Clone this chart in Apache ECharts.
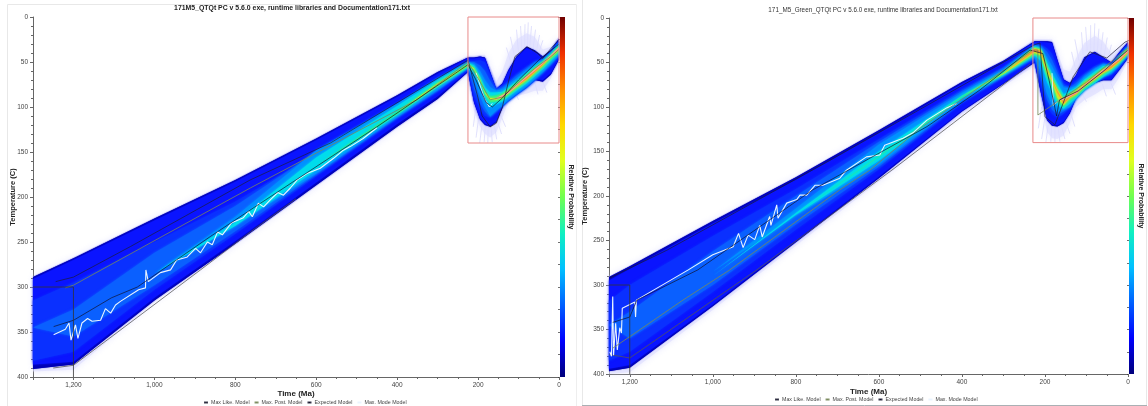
<!DOCTYPE html>
<html><head><meta charset="utf-8">
<style>html,body{margin:0;padding:0;background:#fff}#c{width:1148px;height:406px}</style>
<script src="https://cdn.jsdelivr.net/npm/echarts@6/dist/echarts.min.js"></script></head>
<body><div id="c"></div>
<script>
const titleLeft = '171M5_QTQt PC v 5.6.0 exe, runtime libraries and Documentation171.txt';
const titleRight = '171_M5_Green_QTQt PC v 5.6.0 exe, runtime libraries and Documentation171.txt';
const legendNames = ['Max Like. Model','Max. Post. Model','Expected Model','Max. Mode Model'];
const layerColors = ['#dcdcff','#0000b4','#0a14ff','#0a30ff','#0a60ff','#0090ff','#00dcec','#28f090','#c8f028','#ff9030'];
const barColors = ['#00007a','#0000ff','#0060ff','#00c0ff','#10f0c0','#70ff50','#e0ff20','#ffd800','#ff8c00','#f03000','#700000'];

const leftTimes = [1300,1200,1000,800,600,400,300,225,210,195,183,170,155,140,125,105,80,60,40,20,0];
const leftUpper = [
 [288,267,223,180,134,86,60,43,43,42,42,55,72,60,40,25,18,22,36,33,21],
 [289,268,224,181,135,87,61,45,45,44,45,61,80,74,59,44,33,37,44,37,24],
 [291,270,226,183,137,89,63,46,46,45,46,62,80,75,60.5,45.5,34.5,38.5,45,38,25],
 [315,295,250,205,152,100,70,50,49,48,50,64,80,76,71,63,55,49,47,39,27],
 [345,325,262,210,150,98,69,50,50,54,60,71,81,78,73,65,57,50,47,39,28],
 [345,340,285,222,148,96,68,50,52,60,70,78,82,80,75,68,59,52,48,40,29],
 [345,340,285,228,156,99,70,51,54,66,78,84,84,83,78,71,62,55,49,41,31],
 [345,340,285,230,165,105,73,52,56,68,82,88,87,85,80,73,64,56,50,42,32],
 [345,340,285,230,165,106,74,53,57,70,84,90,90,87,82,75,66,58,51,43,34],
 [345,340,285,230,165,106,75,53,57,70,84,91,91,88,83,76,67,59,52,44,35]];
const leftLower = [
 [394,392,317,254,189,124,93,64,105,122,130,134,128,112,95,88,85,82,82,68,50],
 [391,386,315,252,187,122,91,61,95,114,120,122,117,101,85,81,76,70,72,64,47],
 [386,383,312,249,184,119,88,60,94,112.5,118.5,120.5,115.5,99.5,84,80,74.5,69,70,62,46],
 [382,372,303,241,177,113,83,58,88,104,110,112,106,100,94,87,79,71,63,54,44],
 [345,355,298,238,175,112,82,57,80,96,105,111,105,99,93,86,78,70,62,53,43],
 [345,340,285,232,174,111,81,57,70,88,100,110,104,98,92,85,77,69,61,52,42],
 [345,340,285,232,170,109,78,56,62,76,90,100,97,94,89,82,74,66,58,49,40],
 [345,340,285,230,165,108,76,55,60,72,86,95,94,92,87,80,72,64,56,47,39],
 [345,340,285,230,165,106,76,54,58,71,85,92,92,90,85,78,70,62,54,45,37],
 [345,340,285,230,165,106,75,53,57,70,84,91,91,89,84,77,69,61,53,44,36]];

const rightTimes = [1250,1200,1000,800,600,400,300,225,210,195,183,170,155,140,125,105,80,60,40,20,0];
const rightUpper = [
 [290,278,227,178,125,71,47,24,24,24,24,38,58,60,45,28,20,26,40,32,24],
 [291,279,228,179,126,72,48,26,26,26,27,47,69,73,64,44,38,44,50,38,27],
 [295,282,231,182,129,74,50,27,27,27.5,28.5,48.5,70,74,65,45.5,39,45,50.5,39,28],
 [318,300,245,192,136,80,55,30,30,34,40,56,74,77,70,62,54,50,52,42,30],
 [345,330,262,200,139,82,56,30,31,38,47,61,76,78,73,64,56,51,53,42,31],
 [345,340,285,214,142,84,58,31,33,44,54,66,78,79,76,66,57,52,53,43,32],
 [360,355,290,219,150,87,60,32,34,50,62,74,86,82,78,69,60,54,54,44,33],
 [360,355,290,220,155,88,61,33,35,54,66,78,90,84,80,71,63,56,54,44,34],
 [360,355,290,220,155,88,62,34,36,56,68,80,92,86,82,73,65,58,54,45,35],
 [360,355,290,220,155,88,62,35,37,57,69,82,94,88,83,75,66,59,54,46,36]];
const rightLower = [
 [400,398,328,256,184,109,77,54,95,128,135,136,132,118,100,92,86,80,80,66,48],
 [397,393,324,252,180,105,74,50,84,115,121,122,118,107,90,81,73,70,70,58,45],
 [394,390,322,250,178,104,73,49,82,113.5,119.5,120.5,116.5,105.5,89,80,72,69,69,57,44.5],
 [385,375,308,238,170,96,67,46,74,100,108,112,108,101,88,79,70,66,64,54,42],
 [345,360,300,232,167,94,66,45,67,92,103,109,105,100,91,81,73,67,63,53,42],
 [345,340,285,222,165,93,65,44,60,85,98,106,103,100,90,81,73,66,62,53,42],
 [360,355,290,221,160,90,64,42,48,72,84,98,102,96,90,81,73,66,60,51,41],
 [360,355,290,220,156,89,63,41,44,66,76,94,100,93,88,79,71,64,58,50,40],
 [360,355,290,220,155,88,63,39,42,62,72,90,98,90,86,77,69,62,57,49,39],
 [360,355,290,220,155,88,62,37,39,58,70,84,96,89,85,76,68,61,56,48,38]];

const leftWisps = [[110,44,120,22],[100,40,105,14],[92,36,95,10],[85,33,84,8],[78,33,76,6],[72,33,68,10],[64,35,58,14],[56,38,48,20],[50,40,40,26],[118,52,130,34],[205,100,212,122],[198,110,205,134],[190,118,196,140],[182,120,185,139],[175,122,176,140],[168,122,165,139],[160,120,154,136],[152,116,142,130],[145,108,132,122],[110,82,100,92],[60,72,52,86],[40,72,30,84]];
const rightWisps = [[118,48,128,24],[108,42,112,16],[98,38,102,10],[90,36,90,8],[82,36,80,6],[74,38,70,12],[66,40,60,16],[58,44,50,22],[50,48,40,30],[125,60,136,38],[208,100,216,124],[200,112,208,136],[192,120,198,140],[184,122,186,139],[176,124,176,140],[168,124,164,139],[160,122,152,136],[150,116,140,130],[140,104,128,122],[112,84,100,94],[62,74,52,88],[42,72,30,86]];

const leftMaxLike = [[1244,294],[1200,289],[1059,255],[895,214],[763,181],[565,140],[410,98],[225,48],[200,90],[190,110],[170,122],[155,118],[140,100],[125,72],[109,44],[79,33],[54,40],[40,46],[20,35],[0,25]];
const leftMaxPost = [[1220,301],[1200,298],[763,190],[351,92],[225,50],[195,72],[170,92],[140,89],[100,73],[60,57],[20,44],[0,36]];
const leftExpected = [[1249,344],[1200,337],[1106,312],[1042,300],[862,244],[738,207],[450,122],[225,53],[205,70],[180,95],[165,100],[140,90],[100,70],[50,48],[0,30]];
const leftMode = [[1249,353],[1220,347],[1211,340],[1206,359],[1195,342],[1189,357],[1179,340],[1165,335],[1154,338],[1133,337],[1121,324],[1108,329],[1096,320],[1084,316],[1039,303],[1022,301],[1021,281],[1015,294],[985,284],[960,281],[945,270],[920,267],[898,257],[886,262],[869,250],[857,253],[844,239],[832,242],[810,229],[780,223],[767,216],[758,222],[743,207],[730,211],[713,203],[695,195],[681,198],[664,190],[647,181],[623,174],[590,168],[557,157],[533,148],[516,144],[484,135],[450,123]];
const leftModeRecent = [[205,62],[185,90],[172,100],[165,96]];
const leftEdge = [[1250,390],[1200,387],[886,281],[763,239],[650,202]];
const leftCore = [[155,91],[125,84],[100,74],[60,59],[20,43],[0,34]];

const rightMaxLike = [[1248,292],[1111,261],[870,199],[718,160],[400,76],[225,30],[212,28],[200,111],[176,120],[132,66],[92,38],[51,45],[7,27],[0,26]];
const rightMaxPost = [[1241,371],[1200,358],[1072,317],[959,283],[694,193],[622,171],[501,124],[229,36],[217,36],[217,109],[164,92],[100,72],[7,36],[0,34]];
const rightExpected = [[1241,342],[1200,336],[1183,317],[1036,283],[759,193],[484,122],[357,81],[236,36],[205,40],[190,70],[172,110],[165,92],[120,82],[60,60],[0,36]];
const rightMode = [[1248,375],[1244,380],[1241,313],[1239,379],[1234,343],[1230,373],[1224,348],[1220,354],[1218,326],[1188,319],[1186,336],[1184,317],[1059,283],[1000,266],[951,257],[938,242],[927,258],[915,244],[899,249],[887,233],[881,246],[863,223],[860,233],[846,210],[843,225],[822,208],[798,204],[790,199],[774,199],[754,188],[735,188],[694,180],[678,171],[630,156],[598,154],[586,143],[542,135],[518,129],[485,115],[437,101],[413,96]];
const rightModeRecent = [[183,62],[180,98],[165,92]];
const rightEdge = [[1250,378],[1200,382],[894,283],[566,170],[236,52]];
const rightCore = [[160,92],[125,84],[100,74],[60,59],[20,46],[0,37]];

const leftBox = [[1300,300],[1200,300],[1200,400]];
const rightBox = [[1250,300],[1200,300],[1200,400]];
const leftRedBox = [[225,0],[0,0],[0,140],[225,140],[225,0]];
const rightRedBox = [[229,0],[0,0],[0,140],[229,140],[229,0]];
const yTicks = {min:0,max:400,interval:50};
const xInterval = 200;

const axisColor = '#666', textColor = '#444', fontName = 'Liberation Sans';
const numFmt = v => v >= 1000 ? Math.floor(v/1000)+','+String(v%1000).padStart(3,'0') : String(v);

function xAxis(i, max){ return {gridIndex:i,type:'value',min:0,max,interval:xInterval,inverse:true,position:'bottom',
  name:'Time (Ma)',nameLocation:'middle',nameGap:i===0?13:14,nameMoveOverlap:false,nameTextStyle:{fontFamily:fontName,fontWeight:'bold',fontSize:8,color:'#222'},
  axisLine:{onZero:false,lineStyle:{color:axisColor,width:1}},axisTick:{length:3,lineStyle:{color:axisColor}},
  minorTick:{show:true,splitNumber:4,length:2,lineStyle:{color:axisColor}},splitLine:{show:false},
  axisLabel:{fontFamily:fontName,fontSize:6.5,color:textColor,margin:5,showMaxLabel:false,formatter:numFmt}}; }
function yAxis(i){ return {gridIndex:i,type:'value',min:yTicks.min,max:yTicks.max,interval:yTicks.interval,inverse:true,position:'left',
  name:'Temperature (C)',nameLocation:'middle',nameGap:i===0?16:20,nameMoveOverlap:false,nameTextStyle:{fontFamily:fontName,fontWeight:'bold',fontSize:7.5,color:'#222'},
  axisLine:{onZero:false,lineStyle:{color:axisColor,width:1}},axisTick:{length:3,lineStyle:{color:axisColor}},
  minorTick:{show:true,splitNumber:5,length:2,lineStyle:{color:axisColor}},splitLine:{show:false},
  axisLabel:{fontFamily:fontName,fontSize:6.5,color:textColor,margin:5}}; }
function barX(i){ return {gridIndex:i,type:'value',min:0,max:1,show:false}; }
function barY(i){ return {gridIndex:i,type:'value',min:0,max:16,interval:1,position:'right',
  name:'Relative Probability',nameLocation:'middle',nameRotate:-90,nameGap:i===2?2:3,nameMoveOverlap:false,nameTextStyle:{fontFamily:fontName,fontWeight:'bold',fontSize:7,color:'#222'},
  axisLine:{show:false},axisTick:{show:true,inside:true,length:2,lineStyle:{color:'#333',opacity:.7}},axisLabel:{show:false},splitLine:{show:false}}; }

function bandSeries(ax, times, upper, lower){
  return {type:'custom',xAxisIndex:ax,yAxisIndex:ax,silent:true,clip:false,z:2,
    data:layerColors.map((c,i)=>[times[0],upper[i][0]]),
    renderItem(p, api){
      const i = p.dataIndex, pts = [];
      times.forEach((t,k)=>pts.push(api.coord([t,upper[i][k]])));
      for(let k=times.length-1;k>=0;k--) pts.push(api.coord([times[k],lower[i][k]]));
      return {type:'polygon',shape:{points:pts},
        style:{fill:layerColors[i],opacity:i===0?.6:1,shadowBlur:i===0?6:(i===1?1:2.5),shadowColor:layerColors[i]}};
    }};
}
function wispSeries(ax, wisps){
  return {type:'custom',xAxisIndex:ax,yAxisIndex:ax,silent:true,clip:false,z:1,
    data:wisps.map(w=>[w[0],w[1]]),
    renderItem(p, api){
      const w = wisps[p.dataIndex], a = api.coord([w[0],w[1]]), b = api.coord([w[2],w[3]]);
      return {type:'line',shape:{x1:a[0],y1:a[1],x2:b[0],y2:b[1]},style:{stroke:'rgba(70,70,235,.16)',lineWidth:1}};
    }};
}
function lineSeries(ax, name, data, color, width, opacity){
  return {type:'line',name,xAxisIndex:ax,yAxisIndex:ax,data,showSymbol:false,symbol:'none',clip:false,silent:true,z:5,
    lineStyle:{color,width,opacity:opacity===undefined?1:opacity},itemStyle:{color}};
}
function barSeries(ax){
  return {type:'custom',xAxisIndex:ax,yAxisIndex:ax,silent:true,clip:false,z:2,data:[[0,0],[1,16]],
    renderItem(p, api){
      if(p.dataIndex) return null;
      const a = api.coord([0,16]), b = api.coord([1,0]);
      return {type:'rect',shape:{x:a[0],y:a[1],width:b[0]-a[0],height:b[1]-a[1]},
        style:{fill:new echarts.graphic.LinearGradient(0,1,0,0,barColors.map((c,i)=>({offset:i/(barColors.length-1),color:c})))}};
    }};
}
function panel(ax, d){
  return [wispSeries(ax,d.wisps),bandSeries(ax,d.times,d.upper,d.lower),
    lineSeries(ax,'Lower edge',d.edge,'#555',.9,.85),
    lineSeries(ax,'Max. Mode Model',d.mode,'#eaf4ff',1.1),
    lineSeries(ax,'Max. Mode Model',d.modeRecent,'#eaf4ff',.9),
    lineSeries(ax,'Core',d.core,'#f4a0a0',1.2),
    lineSeries(ax,'Max. Post. Model',d.post,'#78885a',.9,.9),
    lineSeries(ax,'Expected Model',d.exp,'#101028',.8,.85),
    lineSeries(ax,'Max Like. Model',d.like,'#1c1c30',.8,.85),
    lineSeries(ax,'Box',d.box,'#333',0.8),
    lineSeries(ax,'Red box',d.red,'#e88a8a',1)];
}
const legend = (left, top) => ({left,top,orient:'horizontal',data:legendNames,selectedMode:false,
  itemWidth:4,itemHeight:1.5,itemGap:4,padding:0,textStyle:{fontFamily:fontName,fontSize:5.3,color:textColor,padding:[0,0,0,-2]}});
const frame = (x1,y1,x2,y2,c) => ({type:'line',shape:{x1,y1,x2,y2},silent:true,style:{stroke:c,lineWidth:1}});

const chart = echarts.init(document.getElementById('c'),null,{renderer:'canvas'});
chart.setOption({
  animation:false,backgroundColor:'#fff',
  title:[
    {text:titleLeft,left:287,top:0,textAlign:'center',textStyle:{fontFamily:fontName,fontWeight:'bold',fontSize:6.9,color:'#222'}},
    {text:titleRight,left:878,top:2,textAlign:'center',textStyle:{fontFamily:fontName,fontWeight:'normal',fontSize:6.3,color:'#333'}}],
  grid:[
    {left:33,top:17,width:526,height:360},
    {left:609,top:18,width:519,height:356},
    {left:560,top:17,width:5,height:360},
    {left:1129,top:18,width:5,height:356}],
  xAxis:[xAxis(0,1300),xAxis(1,1250),barX(2),barX(3)],
  yAxis:[yAxis(0),yAxis(1),barY(2),barY(3)],
  legend:[legend(203,400),legend(774,397)],
  graphic:[frame(7.5,4.5,576.5,4.5,'#e8e8e8'),frame(7.5,4.5,7.5,406,'#e8e8e8'),frame(576.5,4.5,576.5,406,'#eeeeee'),
           frame(582.5,0,582.5,406,'#e8e8e8'),frame(1146.5,0,1146.5,406,'#e8e8e8'),frame(582,405.5,1147,405.5,'#aab0b4')],
  series:[
    ...panel(0,{times:leftTimes,upper:leftUpper,lower:leftLower,wisps:leftWisps,like:leftMaxLike,post:leftMaxPost,exp:leftExpected,mode:leftMode,modeRecent:leftModeRecent,edge:leftEdge,core:leftCore,box:leftBox,red:leftRedBox}),
    ...panel(1,{times:rightTimes,upper:rightUpper,lower:rightLower,wisps:rightWisps,like:rightMaxLike,post:rightMaxPost,exp:rightExpected,mode:rightMode,modeRecent:rightModeRecent,edge:rightEdge,core:rightCore,box:rightBox,red:rightRedBox}),
    barSeries(2),barSeries(3)]
});
</script></body></html>
